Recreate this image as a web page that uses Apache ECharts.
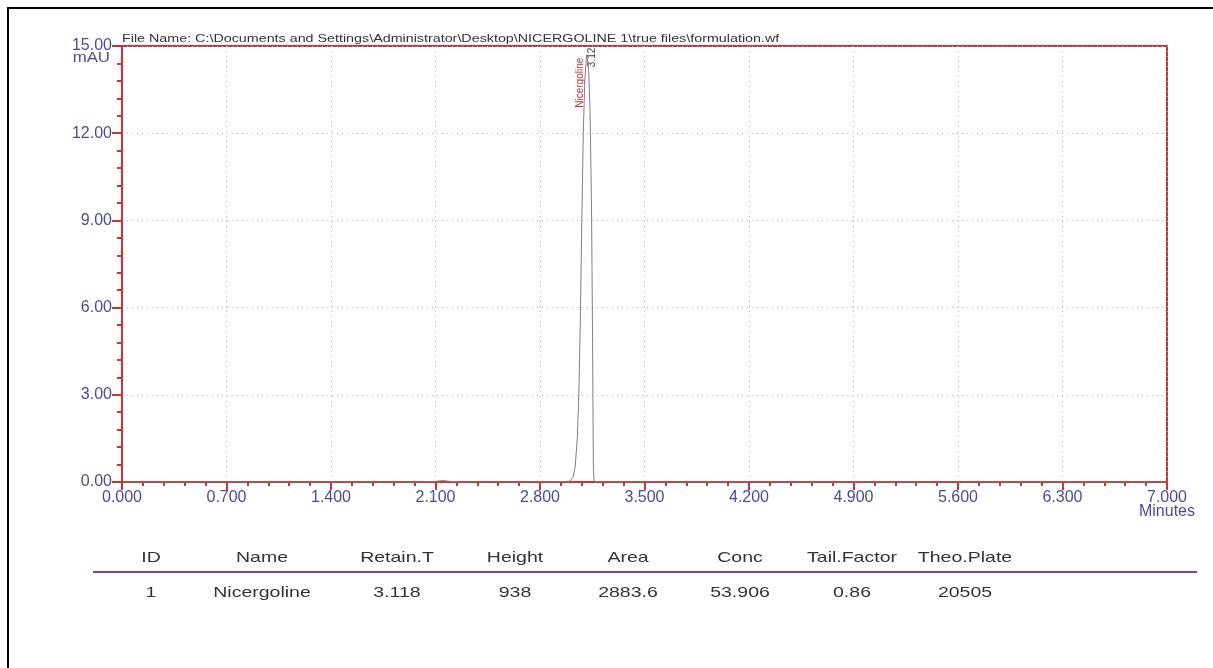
<!DOCTYPE html>
<html>
<head>
<meta charset="utf-8">
<script src="https://cdn.jsdelivr.net/npm/echarts@6/dist/echarts.min.js"></script>
<style>
  html, body { margin: 0; padding: 0; background: #fff; }
  #main { position: absolute; left: 0; top: 0; width: 1213px; height: 668px; }
  #frame { position: absolute; left: 7px; top: 7px; width: 1300px; height: 700px;
           border-left: 2px solid #000; border-top: 2px solid #000; pointer-events: none; }
</style>
</head>
<body>
<div id="main"></div>
<div id="frame"></div>
<script>
// chromatogram trace (minutes, mAU)
const timeMin = [0, 0.5, 1.0, 1.5, 2.0, 2.1, 2.15, 2.2, 2.3, 2.8, 2.95, 3.0, 3.02, 3.035, 3.05,
  3.06, 3.07, 3.08, 3.09, 3.1, 3.112, 3.125, 3.135, 3.145, 3.152, 3.156, 3.158, 3.162, 3.2, 3.5, 4.5, 5.5, 7.0];
const signal = [0, 0, 0, 0, 0, 0.02, 0.05, 0.02, 0, 0, 0.01, 0.03, 0.15, 0.5, 1.5,
  3.0, 5.5, 9.0, 12.0, 13.8, 14.7, 14.3, 12.8, 9.5, 5.0, 1.5, 0.4, 0.03, 0, 0, 0, 0, 0];

// peak annotation
const peakName = 'Nicergoline';
const peakTime = 3.118;
const peakTop = 14.7;

// results table
const tableHeaders = ['ID', 'Name', 'Retain.T', 'Height', 'Area', 'Conc', 'Tail.Factor', 'Theo.Plate'];
const tableRow = ['1', 'Nicergoline', '3.118', '938', '2883.6', '53.906', '0.86', '20505'];
const colCenters = [151, 262, 397, 515, 628, 740, 852, 965];

const fileName = 'File Name: C:\\Documents and Settings\\Administrator\\Desktop\\NICERGOLINE 1\\true files\\formulation.wf';

const red = '#cc3333';
const blue = '#4a4aa6';
const font = 'Liberation Sans, Arial, sans-serif';

const myChart = echarts.init(document.getElementById('main'));

myChart.setOption({
  backgroundColor: '#fff',
  animation: false,
  grid: {
    left: 122, top: 46, right: 46, bottom: 186,
    show: true, borderColor: red, borderWidth: 2
  },
  xAxis: {
    type: 'value', min: 0, max: 7, interval: 0.7,
    axisLine: { show: true, onZero: false, lineStyle: { color: red, width: 2 } },
    axisTick: { show: true, inside: false, length: 8, lineStyle: { color: red, width: 2 } },
    minorTick: { show: true, splitNumber: 5, length: 4, lineStyle: { color: red, width: 2 } },
    splitLine: { show: true, lineStyle: { color: '#b4b4b4', type: [1, 4], width: 1 } },
    axisLabel: {
      color: blue, fontFamily: font, fontSize: 16, margin: 9, lineHeight: 14,
      showMinLabel: true, showMaxLabel: true,
      formatter: (v) => v === 7 ? '7.000\nMinutes' : v.toFixed(3)
    }
  },
  yAxis: {
    type: 'value', min: 0, max: 15, interval: 3,
    axisLine: { show: true, onZero: false, lineStyle: { color: red, width: 2 } },
    axisTick: { show: true, inside: false, length: 10, lineStyle: { color: red, width: 2 } },
    minorTick: { show: true, splitNumber: 5, length: 5, lineStyle: { color: red, width: 2 } },
    splitLine: { show: true, lineStyle: { color: '#b4b4b4', type: [1, 4], width: 1 } },
    axisLabel: {
      color: blue, fontFamily: font, fontSize: 16, margin: 10,
      showMinLabel: true, showMaxLabel: true,
      formatter: (v) => v.toFixed(2)
    }
  },
  series: [{
    type: 'line',
    data: timeMin.map((t, i) => [t, signal[i]]),
    showSymbol: false,
    lineStyle: { color: '#808080', width: 1 },
    z: 1
  }]
});

// texts placed from the chart's own scales
const peakPx = myChart.convertToPixel({ gridIndex: 0 }, [peakTime, peakTop]);
const topLeft = myChart.convertToPixel({ gridIndex: 0 }, [0, 15]);

const graphics = [
  {
    type: 'text', x: topLeft[0], y: topLeft[1] - 2, scaleX: 1.3,
    style: { text: fileName, fill: '#333', font: '11px ' + font, align: 'left', verticalAlign: 'bottom' }
  },
  {
    type: 'text', x: topLeft[0] - 12, y: topLeft[1] + 5, scaleX: 1.2,
    style: { text: 'mAU', fill: blue, font: '14px ' + font, align: 'right', verticalAlign: 'top' }
  },
  {
    type: 'text', x: peakPx[0] - 7, y: peakPx[1] + 3, rotation: Math.PI / 2,
    style: { text: peakName, fill: '#c83030', font: '10px ' + font, align: 'right', verticalAlign: 'middle' }
  },
  {
    type: 'text', x: peakPx[0] + 5, y: peakPx[1] - 7, rotation: Math.PI / 2,
    style: { text: peakTime.toFixed(2), fill: '#444', font: '10px ' + font, align: 'right', verticalAlign: 'middle' }
  },
  {
    type: 'line', shape: { x1: 93, y1: 572, x2: 1197, y2: 572 },
    style: { stroke: '#8040c0', lineWidth: 2 }
  }
];

tableHeaders.concat(tableRow).forEach((t, i) => {
  const col = i % tableHeaders.length;
  graphics.push({
    type: 'text', x: colCenters[col], y: i < tableHeaders.length ? 558 : 593, scaleX: 1.3,
    style: { text: t, fill: '#333', font: '15px ' + font, align: 'center', verticalAlign: 'middle' }
  });
});

myChart.setOption({ graphic: graphics });
</script>
</body>
</html>
